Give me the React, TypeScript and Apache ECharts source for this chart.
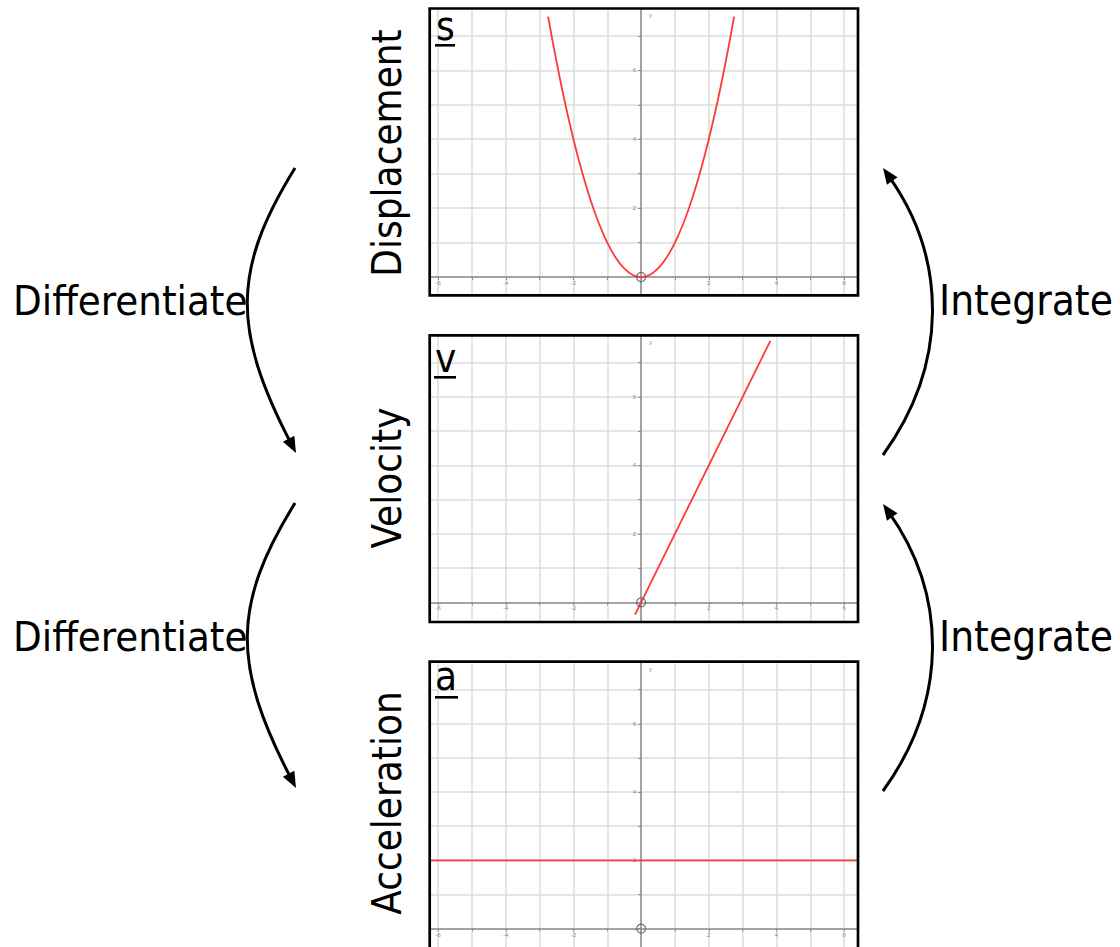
import React, { useEffect, useRef } from "react";
import * as echarts from "echarts";

// ---- data ----
const X_MIN = -6.24;
const X_MAX = 6.41;
const Y_MIN = -0.54;
const Y_MAX = 7.78;
const X_TICK_LABELS = [-6, -4, -2, 2, 4, 6];
const Y_TICK_LABELS = [2, 4, 6];
const PANEL_LETTERS = ["s", "v", "a"];
const PANEL_NAMES = ["Displacement", "Velocity", "Acceleration"];
const LEFT_LABEL = "Differentiate";
const RIGHT_LABEL = "Integrate";

// displacement s
const S_X = [-2.75, -2.5, -2.25, -2, -1.75, -1.5, -1.25, -1, -0.75, -0.5, -0.25, 0, 0.25, 0.5, 0.75, 1, 1.25, 1.5, 1.75, 2, 2.25, 2.5, 2.75];
const S_Y = [7.56, 6.25, 5.06, 4, 3.06, 2.25, 1.56, 1, 0.56, 0.25, 0.06, 0, 0.06, 0.25, 0.56, 1, 1.56, 2.25, 3.06, 4, 5.06, 6.25, 7.56];
// velocity v
const V_X = [-0.18, 3.82];
const V_Y = [-0.36, 7.64];
// acceleration a
const A_X = [X_MIN, X_MAX];
const A_Y = [2, 2];
// origin marker
const ORIGIN = [0, 0];

const FONT = '"DejaVu Sans Condensed", "DejaVu Sans", sans-serif';

// layout
const GRID_LEFT = 430;
const GRID_WIDTH = 428;
const GRID_TOPS = [9, 336, 663];
const GRID_HEIGHTS = [286.6, 284.8, 284.3];
const BORDERS = [
  { x: 429.7, y: 8.5, w: 428.3, h: 286.8 },
  { x: 429.7, y: 335.3, w: 428.3, h: 286.7 },
  { x: 429.7, y: 661.7, w: 428.3, h: 300 },
];

function zip(xs: number[], ys: number[]) {
  return xs.map((x, i) => [x, ys[i]]);
}

function arrow(p0: number[], c1: number[], c2: number[], tip: number[]) {
  const dx = tip[0] - c2[0];
  const dy = tip[1] - c2[1];
  const len = Math.hypot(dx, dy);
  const ux = dx / len;
  const uy = dy / len;
  const L = 16;
  const W = 6.5;
  const bx = tip[0] - L * ux;
  const by = tip[1] - L * uy;
  const nx = -uy;
  const ny = ux;
  const endX = tip[0] - 10 * ux;
  const endY = tip[1] - 10 * uy;
  return [
    {
      type: "bezierCurve",
      z: 100,
      shape: { x1: p0[0], y1: p0[1], cpx1: c1[0], cpy1: c1[1], cpx2: c2[0], cpy2: c2[1], x2: endX, y2: endY },
      style: { stroke: "#000", lineWidth: 3, fill: null },
    },
    {
      type: "polygon",
      z: 101,
      shape: { points: [[tip[0], tip[1]], [bx + W * nx, by + W * ny], [bx - W * nx, by - W * ny]] },
      style: { fill: "#000" },
    },
  ];
}

export default function App() {
  const ref = useRef<HTMLDivElement>(null);

  useEffect(() => {
    if (!ref.current) return;
    const chart = echarts.init(ref.current, null, { renderer: "svg" });

    const grids = GRID_TOPS.map((top, i) => ({
      left: GRID_LEFT,
      top,
      width: GRID_WIDTH,
      height: GRID_HEIGHTS[i],
      show: false,
    }));

    const unitX = GRID_WIDTH / (X_MAX - X_MIN);

    const xAxes = GRID_TOPS.map((_, i) => {
      const unitY = GRID_HEIGHTS[i] / (Y_MAX - Y_MIN);
      return {
        type: "value",
        gridIndex: i,
        position: "bottom",
        offset: -(0 - Y_MIN) * unitY,
        min: X_MIN,
        max: X_MAX,
        minInterval: 1,
        maxInterval: 1,
        axisLine: { show: true, onZero: false, lineStyle: { color: "#8c8c8c", width: 1.5 } },
        axisTick: { show: true, length: 3, lineStyle: { color: "#8c8c8c", width: 1 } },
        axisLabel: {
          show: true,
          margin: 3,
          fontSize: 6,
          color: "#888",
          showMinLabel: false,
          showMaxLabel: false,
          formatter: (v: number) => (X_TICK_LABELS.includes(v) ? String(v) : ""),
        },
        splitLine: { show: true, showMinLine: false, showMaxLine: false, lineStyle: { color: "#dcdcdc", width: 1.5 } },
      };
    });

    const yAxes = GRID_TOPS.map((_, i) => ({
      type: "value",
      gridIndex: i,
      position: "left",
      offset: -(0 - X_MIN) * unitX,
      min: Y_MIN,
      max: Y_MAX,
      minInterval: 1,
      maxInterval: 1,
      name: "y",
      nameLocation: "end",
      nameGap: -9,
      nameTextStyle: { fontSize: 6, color: "#888", align: "left", padding: [0, 0, 0, 8] },
      axisLine: { show: true, onZero: false, lineStyle: { color: "#8c8c8c", width: 1.5 } },
      axisTick: { show: true, length: 3, lineStyle: { color: "#8c8c8c", width: 1 } },
      axisLabel: {
        show: true,
        margin: 5,
        fontSize: 6,
        color: "#888",
        showMinLabel: false,
        showMaxLabel: false,
        formatter: (v: number) => (Y_TICK_LABELS.includes(v) ? String(v) : ""),
      },
      splitLine: { show: true, showMinLine: false, showMaxLine: false, lineStyle: { color: "#dcdcdc", width: 1.5 } },
    }));

    const lineStyle = { color: "#ff3838", width: 1.8 };
    const curves = [zip(S_X, S_Y), zip(V_X, V_Y), zip(A_X, A_Y)];
    const series: any[] = [];
    curves.forEach((data, i) => {
      series.push({
        type: "line",
        xAxisIndex: i,
        yAxisIndex: i,
        data,
        smooth: i === 0 ? 0.35 : false,
        showSymbol: false,
        lineStyle,
        silent: true,
        z: 5,
      });
      series.push({
        type: "scatter",
        xAxisIndex: i,
        yAxisIndex: i,
        data: [ORIGIN],
        symbol: "circle",
        symbolSize: 9,
        itemStyle: { color: "transparent", borderColor: "#555", borderWidth: 1.2 },
        silent: true,
        z: 6,
      });
    });

    const graphic: any[] = [];
    BORDERS.forEach((b) => {
      graphic.push({
        type: "rect",
        z: 100,
        shape: { x: b.x, y: b.y, width: b.w, height: b.h },
        style: { fill: "transparent", stroke: "#000", lineWidth: 2.7 },
      });
    });

    // panel letters with underline
    const letterPos = [
      { x: 436, base: 40, ux: 435, uw: 20, uy: 44 },
      { x: 435, base: 372, ux: 434, uw: 22, uy: 376 },
      { x: 435, base: 690, ux: 435, uw: 23, uy: 696 },
    ];
    letterPos.forEach((p, i) => {
      graphic.push({
        type: "text",
        z: 100,
        x: p.x,
        y: p.base - 13.8,
        style: { text: PANEL_LETTERS[i], fontSize: 40, fontFamily: FONT, fill: "#000", align: "left", verticalAlign: "middle" },
      });
      graphic.push({
        type: "rect",
        z: 100,
        shape: { x: p.ux, y: p.uy, width: p.uw, height: 2.6 },
        style: { fill: "#000" },
      });
    });

    // vertical panel names
    const nameCenters = [153, 478, 803];
    nameCenters.forEach((cy, i) => {
      graphic.push({
        type: "text",
        z: 100,
        x: 387,
        y: cy,
        rotation: Math.PI / 2,
        style: { text: PANEL_NAMES[i], fontSize: 40, fontFamily: FONT, fill: "#000", align: "center", verticalAlign: "middle" },
      });
    });

    // side labels
    [300.5, 636].forEach((cy) => {
      graphic.push({
        type: "text",
        z: 100,
        x: 13,
        y: cy,
        style: { text: LEFT_LABEL, fontSize: 41.5, fontFamily: FONT, fill: "#000", align: "left", verticalAlign: "middle" },
      });
      graphic.push({
        type: "text",
        z: 100,
        x: 939,
        y: cy,
        style: { text: RIGHT_LABEL, fontSize: 42, fontFamily: FONT, fill: "#000", align: "left", verticalAlign: "middle" },
      });
    });

    // arrows
    [0, 335].forEach((dy) => {
      graphic.push(...arrow([295, 168 + dy], [232, 270 + dy], [232, 330 + dy], [296, 453 + dy]));
    });
    [0, 336].forEach((dy) => {
      graphic.push(...arrow([883, 455 + dy], [948, 365 + dy], [948, 260 + dy], [883, 168 + dy]));
    });

    chart.setOption({
      animation: false,
      backgroundColor: "#fff",
      grid: grids,
      xAxis: xAxes,
      yAxis: yAxes,
      series,
      graphic,
    });

    return () => chart.dispose();
  }, []);

  return <div ref={ref} style={{ position: "absolute", left: 0, top: 0, width: 1120, height: 947 }} />;
}
